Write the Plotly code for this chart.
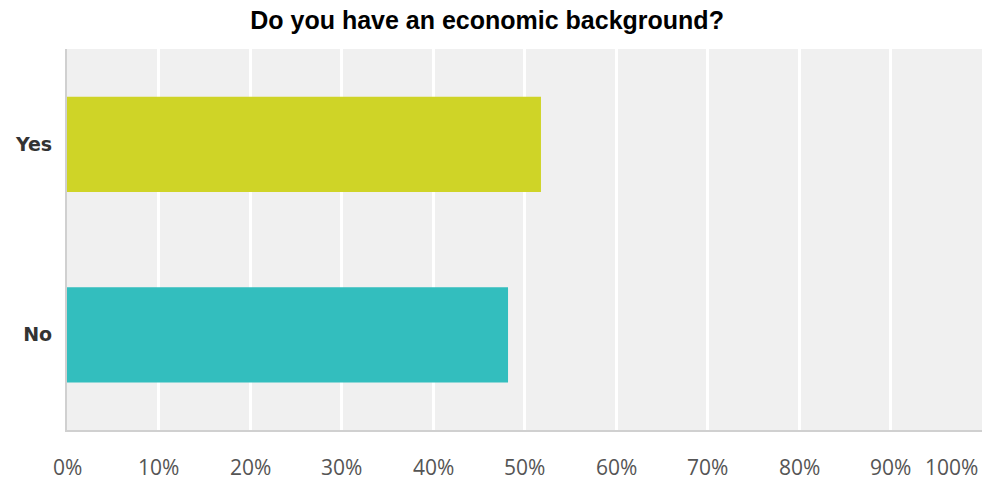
import plotly.graph_objects as go

categories = ["Yes", "No"]
values = [51.8, 48.2]
colors = ["#CFD427", "#33BEBE"]
tick_vals = [0, 10, 20, 30, 40, 50, 60, 70, 80, 90, 100]
tick_text = ["0%", "10%", "20%", "30%", "40%", "50%", "60%", "70%", "80%", "90%", "100%"]
title = "Do you have an economic background?"

fig = go.Figure()
fig.add_trace(go.Bar(
    y=categories, x=values, orientation="h",
    marker=dict(color=colors, line=dict(width=0)),
    width=0.5, hoverinfo="skip",
))

annotations = []
for v, t in zip(tick_vals, tick_text):
    last = v == tick_vals[-1]
    annotations.append(dict(
        x=v, xref="x", y=0, yref="paper", yshift=-37, yanchor="middle",
        xanchor="right" if last else "center", xshift=-2 if last else 0,
        text=t, showarrow=False,
        font=dict(family="Open Sans", size=21, color="#555555"),
    ))

fig.update_layout(
    width=984, height=481,
    margin=dict(l=67, r=2, t=49, b=51),
    paper_bgcolor="white", plot_bgcolor="#F0F0F0",
    title=dict(text=title, x=0.495, xanchor="center", y=1 - 20 / 481, yref="container",
               yanchor="middle",
               font=dict(family="Liberation Sans", size=25, color="#000000", weight="bold")),
    showlegend=False,
    bargap=0.5,
    annotations=annotations,
)
fig.update_xaxes(range=[0, 100], tickvals=tick_vals, showticklabels=False,
                 showgrid=True, gridcolor="#FFFFFF", gridwidth=3, zeroline=False,
                 showline=True, linecolor="#D0D0D0", linewidth=2, fixedrange=True)
fig.update_yaxes(autorange="reversed", showgrid=False, zeroline=False,
                 showline=True, linecolor="#D0D0D0", linewidth=2,
                 ticks="", ticklabelstandoff=9,
                 tickfont=dict(family="DejaVu Sans", size=19, color="#333333", weight="bold"),
                 fixedrange=True)

fig.write_html("out.html", config={"displayModeBar": False})
